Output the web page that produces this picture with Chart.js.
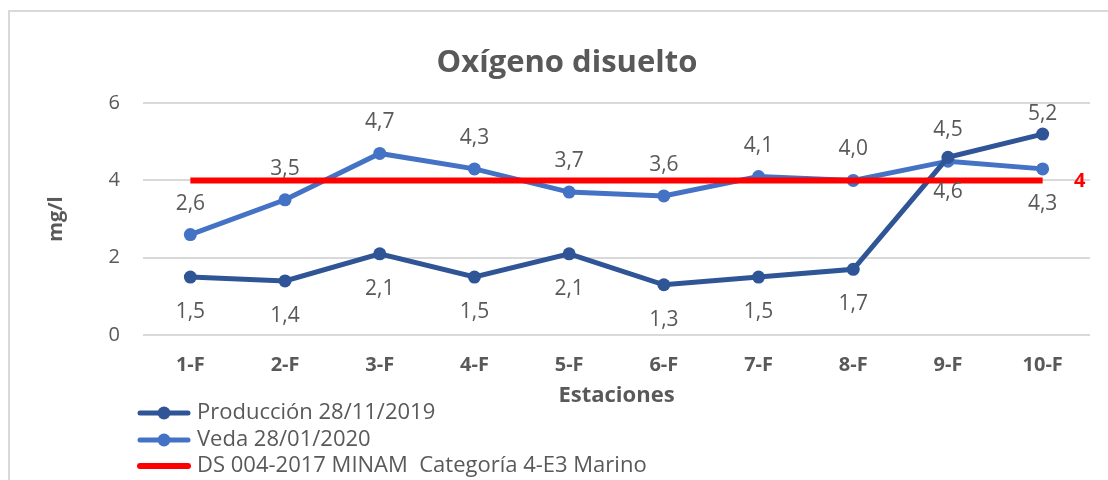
<!DOCTYPE html>
<html>
<head>
<meta charset="utf-8">
<script src="https://cdn.jsdelivr.net/npm/chart.js@4/dist/chart.umd.min.js"></script>
<style>
  html, body { margin: 0; padding: 0; background: #ffffff; }
  #wrap { position: relative; width: 1108px; height: 480px; overflow: hidden; }
  #frame { position: absolute; left: 8px; top: 10px; width: 1110px; height: 480px;
           border-top: 2px solid #d9d9d9; border-left: 2px solid #d9d9d9; box-sizing: border-box; }
  canvas { position: absolute; left: 0; top: 0; }
</style>
</head>
<body>
<div id="wrap">
  <div id="frame"></div>
  <canvas id="c" width="1108" height="480"></canvas>
</div>
<script>
// ---- data ----
const categories = ["1-F", "2-F", "3-F", "4-F", "5-F", "6-F", "7-F", "8-F", "9-F", "10-F"];
const produccion = [1.5, 1.4, 2.1, 1.5, 2.1, 1.3, 1.5, 1.7, 4.6, 5.2];
const veda = [2.6, 3.5, 4.7, 4.3, 3.7, 3.6, 4.1, 4.0, 4.5, 4.3];
const limite = [4, 4, 4, 4, 4, 4, 4, 4, 4, 4];
const seriesNames = ["Producción 28/11/2019", "Veda 28/01/2020", "DS 004-2017 MINAM  Categoría 4-E3 Marino"];
const yTicks = [0, 2, 4, 6];

const TEXT = "#595959";
const FONT = "'Open Sans', 'Noto Sans', sans-serif";

const dataLabels = {
  id: 'dataLabels',
  afterDatasetsDraw(chart, args, opts) {
    const ctx = chart.ctx;
    ctx.save();
    ctx.font = "21px " + FONT;
    ctx.fillStyle = TEXT;
    ctx.textAlign = 'center';
    ctx.textBaseline = 'middle';
    opts.sides.forEach((sides, di) => {
      const meta = chart.getDatasetMeta(di);
      const ds = chart.data.datasets[di];
      meta.data.forEach((pt, i) => {
        const s = sides[i];
        const dy = s === 'b' ? 35 : (s === 'a2' ? -20 : -31);
        ctx.fillText(ds.data[i].toFixed(1).replace('.', ','), pt.x, pt.y + dy);
      });
    });
    // red limit value at the end of the line
    const rm = chart.getDatasetMeta(2);
    const last = rm.data[rm.data.length - 1];
    const rv = chart.data.datasets[2].data[rm.data.length - 1];
    ctx.font = "bold 20px " + FONT;
    ctx.fillStyle = '#ff0000';
    ctx.fillText(String(rv), last.x + 37, last.y + 1);
    ctx.restore();
  }
};

const customLegend = {
  id: 'customLegend',
  afterDraw(chart) {
    const ctx = chart.ctx;
    const x0 = chart.chartArea.left - 3;
    const ys = [chart.height - 67, chart.height - 40, chart.height - 14];
    ctx.save();
    chart.data.datasets.forEach((ds, i) => {
      const y = ys[i];
      ctx.strokeStyle = ds.borderColor;
      ctx.lineWidth = ds.borderWidth;
      ctx.lineCap = 'round';
      ctx.beginPath();
      ctx.moveTo(x0, y);
      ctx.lineTo(x0 + 48, y);
      ctx.stroke();
      if (ds.pointRadius > 0) {
        ctx.fillStyle = ds.borderColor;
        ctx.beginPath();
        ctx.arc(x0 + 24, y, 6.5, 0, Math.PI * 2);
        ctx.fill();
      }
      ctx.fillStyle = TEXT;
      ctx.font = "22px " + FONT;
      ctx.textAlign = 'left';
      ctx.textBaseline = 'middle';
      ctx.fillText(ds.label, x0 + 57, y);
    });
    ctx.restore();
  }
};

new Chart(document.getElementById('c'), {
  type: 'line',
  data: {
    labels: categories,
    datasets: [
      { label: seriesNames[0], data: produccion, borderColor: '#2f5597', backgroundColor: '#2f5597',
        borderWidth: 5, pointRadius: 6.5, pointHoverRadius: 6.5, pointBorderWidth: 0, tension: 0, order: 1 },
      { label: seriesNames[1], data: veda, borderColor: '#4472c4', backgroundColor: '#4472c4',
        borderWidth: 5, pointRadius: 6.5, pointHoverRadius: 6.5, pointBorderWidth: 0, tension: 0, order: 2 },
      { label: seriesNames[2], data: limite, borderColor: '#ff0000', backgroundColor: '#ff0000',
        borderWidth: 6, pointRadius: 0, pointHoverRadius: 0, tension: 0, order: 0 }
    ]
  },
  options: {
    responsive: false,
    animation: false,
    devicePixelRatio: 1,
    layout: { padding: { left: 44, right: 18, top: 0, bottom: 71 } },
    plugins: {
      legend: { display: false },
      tooltip: { enabled: false },
      title: {
        display: true,
        text: 'Oxígeno disuelto',
        color: TEXT,
        font: { family: FONT, size: 31, weight: 'bold', lineHeight: 1.2 },
        padding: { top: 45, bottom: 21 }
      },
      dataLabels: {
        sides: [
          ['b', 'b', 'b', 'b', 'b', 'b', 'b', 'b', 'b', 'a2'],
          ['a', 'a', 'a', 'a', 'a', 'a', 'a', 'a', 'a', 'b']
        ]
      }
    },
    scales: {
      x: {
        offset: true,
        afterFit(scale) { scale.height = 74; },
        grid: { display: false },
        border: { display: false },
        ticks: { color: TEXT, font: { family: FONT, size: 20, weight: 'bold', lineHeight: 1.2 }, padding: 10, maxRotation: 0 },
        title: { display: true, text: 'Estaciones', color: TEXT,
                 font: { family: FONT, size: 22, weight: 'bold', lineHeight: 1.2 }, padding: { top: 7, bottom: 0 } }
      },
      y: {
        min: 0, max: 6,
        afterFit(scale) { scale.width = 99; },
        afterBuildTicks(scale) { scale.ticks = yTicks.map(v => ({ value: v })); },
        grid: { color: '#d9d9d9', lineWidth: 2, drawTicks: false },
        border: { display: false },
        ticks: { color: TEXT, font: { family: FONT, size: 20, lineHeight: 1.2 }, padding: 23 },
        title: { display: true, text: 'mg/l', color: TEXT,
                 font: { family: FONT, size: 20, weight: 'bold', lineHeight: 1.2 }, padding: { top: 0, bottom: 0 } }
      }
    }
  },
  plugins: [dataLabels, customLegend]
});
</script>
</body>
</html>
